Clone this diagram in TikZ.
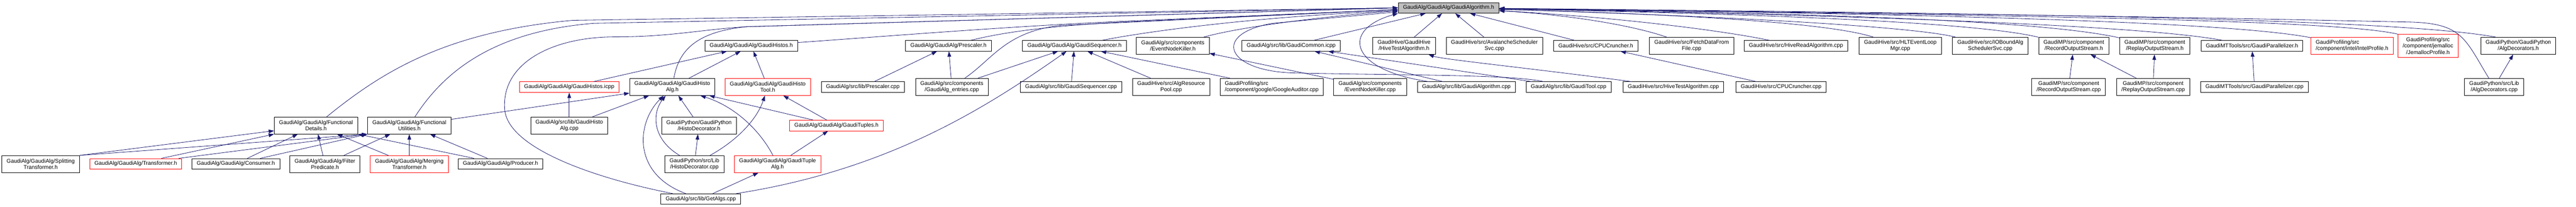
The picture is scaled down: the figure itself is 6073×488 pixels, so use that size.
\documentclass[tikz,border=0pt]{standalone}
\usepackage{fontspec}
\setmainfont{Liberation Sans}
\usetikzlibrary{arrows.meta}

\definecolor{edgeblue}{RGB}{25,25,112}
\definecolor{rootgray}{RGB}{191,191,191}

\tikzset{
  box/.style={draw=black, line width=0.75pt, align=center, inner xsep=8.5pt, inner ysep=2pt,
    minimum height=18.75pt, font=\fontsize{9.75}{11.25}\selectfont},
  two/.style={minimum height=30pt},
  three/.style={minimum height=40.5pt},
  redbox/.style={box, draw=red},
  rootbox/.style={box, fill=rootgray},
  dep/.style={draw=edgeblue, line width=0.75pt, -{Triangle[length=9.5pt,width=6.5pt]}},
}

\begin{document}
\begin{tikzpicture}[x=0.75pt,y=-0.75pt]
	\useasboundingbox (0,0) rectangle (6073,488);

	\node[rootbox] (r) at (3415,18.5) {GaudiAlg/GaudiAlg/GaudiAlgorithm.h};

	\node[box,two] (split) at (96,387)    {GaudiAlg/GaudiAlg/Splitting\\Transformer.h};
	\node[redbox]  (trans) at (320,386.5) {GaudiAlg/GaudiAlg/Transformer.h};
	\node[box]     (cons)  at (556,386.5) {GaudiAlg/GaudiAlg/Consumer.h};
	\node[box,two] (filt)  at (766,387)   {GaudiAlg/GaudiAlg/Filter\\Predicate.h};
	\node[redbox,two] (merg) at (965,387) {GaudiAlg/GaudiAlg/Merging\\Transformer.h};
	\node[box]     (prod)  at (1180,386.5) {GaudiAlg/GaudiAlg/Producer.h};
	\node[box,two] (det)   at (745,296)   {GaudiAlg/GaudiAlg/Functional\\Details.h};
	\node[box,two] (util)  at (965,296)   {GaudiAlg/GaudiAlg/Functional\\Utilities.h};

	\node[redbox]  (ghi)   at (1342,205.5) {GaudiAlg/GaudiAlg/GaudiHistos.icpp};
	\node[box,two] (ghac)  at (1342,296)  {GaudiAlg/src/lib/GaudiHisto\\Alg.cpp};
	\node[box,two] (gha)   at (1585,205)  {GaudiAlg/GaudiAlg/GaudiHisto\\Alg.h};
	\node[box]     (ghh)   at (1771,108)  {GaudiAlg/GaudiAlg/GaudiHistos.h};
	\node[redbox,two] (ght) at (1810,205) {GaudiAlg/GaudiAlg/GaudiHisto\\Tool.h};
	\node[box,two] (hdh)   at (1648,296)  {GaudiPython/GaudiPython\\/HistoDecorator.h};
	\node[redbox]  (tups)  at (1972,296)  {GaudiAlg/GaudiAlg/GaudiTuples.h};
	\node[box,two] (hdc)   at (1637,387)  {GaudiPython/src/Lib\\/HistoDecorator.cpp};
	\node[redbox,two] (tupa) at (1833,387) {GaudiAlg/GaudiAlg/GaudiTuple\\Alg.h};
	\node[box]     (gac)   at (1652,469.5) {GaudiAlg/src/lib/GetAlgs.cpp};

	\node[box]     (prec)  at (2034,205.5) {GaudiAlg/src/lib/Prescaler.cpp};
	\node[box]     (pre)   at (2236,108)  {GaudiAlg/GaudiAlg/Prescaler.h};
	\node[box,two] (gae)   at (2244,205)  {GaudiAlg/src/components\\/GaudiAlg\_entries.cpp};
	\node[box]     (seq)   at (2533,108)  {GaudiAlg/GaudiAlg/GaudiSequencer.h};
	\node[box]     (seqc)  at (2525,205.5) {GaudiAlg/src/lib/GaudiSequencer.cpp};
	\node[box,two] (enkh)  at (2765,108)  {GaudiAlg/src/components\\/EventNodeKiller.h};
	\node[box,two] (arp)   at (2761,205)  {GaudiHive/src/AlgResource\\Pool.cpp};
	\node[box,two,align=left] (goog) at (2998,205) {GaudiProfiling/src\\/component/google/GoogleAuditor.cpp};
	\node[box]     (gcom)  at (3044,108)  {GaudiAlg/src/lib/GaudiCommon.icpp};

	\node[box,two] (htah)  at (3310,108)  {GaudiHive/GaudiHive\\/HiveTestAlgorithm.h};
	\node[box,two] (ava)   at (3523,108)  {GaudiHive/src/AvalancheScheduler\\Svc.cpp};
	\node[box]     (cpuh)  at (3762,108)  {GaudiHive/src/CPUCruncher.h};
	\node[box,two] (fetch) at (3988,108)  {GaudiHive/src/FetchDataFrom\\File.cpp};
	\node[box]     (hra)   at (4234,108)  {GaudiHive/src/HiveReadAlgorithm.cpp};
	\node[box,two] (hlt)   at (4480,108)  {GaudiHive/src/HLTEventLoop\\Mgr.cpp};
	\node[box,two] (iob)   at (4692,108)  {GaudiHive/src/IOBoundAlg\\SchedulerSvc.cpp};
	\node[box,two] (rosh)  at (4889,108)  {GaudiMP/src/component\\/RecordOutputStream.h};
	\node[box,two] (rpsh)  at (5080,108)  {GaudiMP/src/component\\/ReplayOutputStream.h};
	\node[box]     (gph)   at (5309,108)  {GaudiMTTools/src/GaudiParallelizer.h};
	\node[redbox,two,align=left] (ipf) at (5545,108) {GaudiProfiling/src\\/component/intel/IntelProfile.h};
	\node[redbox,three] (jpf) at (5724,108) {GaudiProfiling/src\\/component/jemalloc\\/JemallocProfile.h};
	\node[box,two] (adh)   at (5937,108)  {GaudiPython/GaudiPython\\/AlgDecorators.h};

	\node[box,two] (enkc)  at (3230,205)  {GaudiAlg/src/components\\/EventNodeKiller.cpp};
	\node[box]     (galc)  at (3457,205.5) {GaudiAlg/src/lib/GaudiAlgorithm.cpp};
	\node[box]     (gtc)   at (3698,205.5) {GaudiAlg/src/lib/GaudiTool.cpp};
	\node[box]     (hvtc)  at (3945,205.5) {GaudiHive/src/HiveTestAlgorithm.cpp};
	\node[box]     (cpuc)  at (4199,205.5) {GaudiHive/src/CPUCruncher.cpp};
	\node[box,two] (rosc)  at (4877,205)  {GaudiMP/src/component\\/RecordOutputStream.cpp};
	\node[box,two] (rpsc)  at (5076,205)  {GaudiMP/src/component\\/ReplayOutputStream.cpp};
	\node[box]     (gpc)   at (5315,205.5) {GaudiMTTools/src/GaudiParallelizer.cpp};
	\node[box,two] (adc)   at (5880,205)  {GaudiPython/src/Lib\\/AlgDecorators.cpp};

	\draw[dep] (split.north east) -- (det);
	\draw[dep] (split.north east) -- (util.south west);
	\draw[dep] (trans) -- (det.south west);
	\draw[dep] (trans) -- (util.south west);
	\draw[dep] (cons) -- (det);
	\draw[dep] (cons) -- (util.south west);
	\draw[dep] (filt) -- (det);
	\draw[dep] (filt) -- (util);
	\draw[dep] (merg) -- (det);
	\draw[dep] (merg) -- (util);
	\draw[dep] (prod) -- (det.south east);
	\draw[dep] (prod) -- (util);
	\draw[dep] (util) -- (gha);

	\draw[dep] (ghac) -- (ghi);
	\draw[dep] (ghac) -- (gha);
	\draw[dep] (ghi) -- (ghh);
	\draw[dep] (gha) -- (ghh);
	\draw[dep] (ght) -- (ghh);
	\draw[dep] (hdh) -- (gha);
	\draw[dep] (hdc) -- (hdh);
	\draw[dep] (hdc) .. controls (1540,330) and (1535,270) .. (gha);
	\draw[dep] (hdc) .. controls (1740,330) and (1785,280) .. (ght);
	\draw[dep] (tupa) .. controls (1790,305) and (1730,250) .. (gha);
	\draw[dep] (tupa) -- (tups);
	\draw[dep] (tups) -- (gha);
	\draw[dep] (tups) -- (ght);
	\draw[dep] (gac) .. controls (1490,410) and (1500,290) .. (gha);
	\draw[dep] (gac) -- (tupa);
	\draw[dep] (gac) .. controls (2100,400) and (2330,250) .. (seq);

	\draw[dep] (prec) -- (pre);
	\draw[dep] (gae) -- (pre);
	\draw[dep] (gae) -- (seq);
	\draw[dep] (seqc) -- (seq);
	\draw[dep] (arp) -- (seq);
	\draw[dep] (goog) -- (seq);
	\draw[dep] (enkc) -- (enkh);
	\draw[dep] (galc) -- (gcom);
	\draw[dep] (gtc) -- (gcom);
	\draw[dep] (hvtc) .. controls (3600,160) and (3400,140) .. (htah);
	\draw[dep] (cpuc) -- (cpuh);

	\draw[dep] (rosc) -- (rosh);
	\draw[dep] (rpsc) -- (rosh);
	\draw[dep] (rpsc) -- (rpsh);
	\draw[dep] (gpc) -- (gph);
	\draw[dep] (adc) -- (adh);

	\draw[dep] (det) .. controls (900,170) and (1050,75) .. (1350,48) -- (r.west);
	\draw[dep] (util) .. controls (1040,180) and (1150,75) .. (1400,55) -- (r.west);
	\draw[dep] (gha) .. controls (1600,120) and (1640,75) .. (1760,63) -- (r.west);
	\draw[dep] (gac) .. controls (1400,420) and (1200,350) .. (1190,260)
	  .. controls (1180,150) and (1300,87) .. (1450,87)
	  .. controls (1580,87) and (1650,70) .. (1760,63) -- (r.west);
	\draw[dep] (ghh) .. controls (2100,85) and (2400,60) .. (2700,48) -- ([yshift=-3pt]r.west);
	\draw[dep] (pre) .. controls (2350,80) and (2450,62) .. (2650,52) -- ([yshift=-3pt]r.west);
	\draw[dep] (gae) .. controls (2340,140) and (2370,75) .. (2500,60) -- ([yshift=-3pt]r.west);
	\draw[dep] (seq) .. controls (2700,75) and (2950,40) .. ([yshift=-5pt]r.west);
	\draw[dep] (enkh) .. controls (2900,70) and (3050,45) .. ([yshift=-5pt]r.west);
	\draw[dep] (gtc) .. controls (3560,175) and (3300,178) .. (3050,172)
	  .. controls (2890,168) and (2855,80) .. (3000,55) -- ([yshift=-7pt]r.west);
	\draw[dep] (gcom) -- (r);
	\draw[dep] (galc) .. controls (3180,165) and (3160,70) .. (r.south west);
	\draw[dep] (htah) -- (r);
	\draw[dep] (ava) -- (r);
	\draw[dep] (cpuh) -- (r);

	\draw[dep] (fetch) .. controls (3850,60) and (3700,35) .. (r);
	\draw[dep] (hra) .. controls (4050,70) and (3800,40) .. (r);
	\draw[dep] (hlt) .. controls (4300,50) and (3900,32) .. (r);
	\draw[dep] (iob) .. controls (4500,60) and (4000,36) .. (r);
	\draw[dep] (rosh) .. controls (4650,50) and (4100,32) .. (r);
	\draw[dep] (rpsh) .. controls (4800,45) and (4200,30) .. (r);
	\draw[dep] (gph) .. controls (5050,60) and (4400,36) .. (r);
	\draw[dep] (ipf) .. controls (5250,50) and (4500,32) .. (r);
	\draw[dep] (jpf.north west) .. controls (5500,45) and (4700,36) .. (r);
	\draw[dep] ([xshift=-40pt]adh.north) .. controls (5650,45) and (4800,32) .. (r);
	\draw[dep] (adc) .. controls (5810,90) and (5805,55) .. (5680,52) .. controls (5000,38) .. (r);

\end{tikzpicture}
\end{document}
